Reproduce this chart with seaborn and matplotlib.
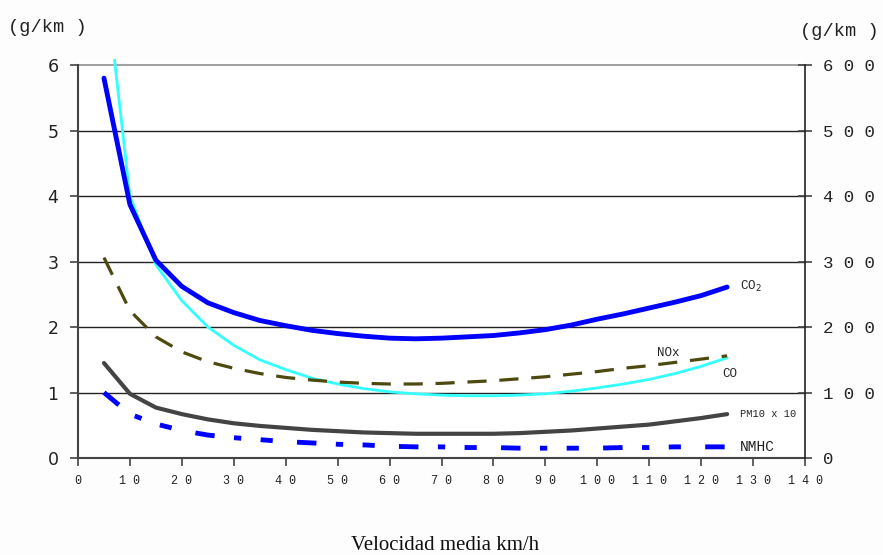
import numpy as np
import pandas as pd
import matplotlib
matplotlib.use("Agg")
import matplotlib.pyplot as plt
import seaborn as sns

speed = [5, 10, 15, 20, 25, 30, 35, 40, 45, 50, 55, 60, 65, 70, 75, 80, 85, 90, 95, 100, 105, 110, 115, 120, 125]
co2 = [5.8, 3.87, 3.02, 2.62, 2.37, 2.22, 2.10, 2.02, 1.95, 1.90, 1.86, 1.83, 1.82, 1.83, 1.85, 1.87, 1.91, 1.96, 2.03, 2.12, 2.20, 2.29, 2.38, 2.48, 2.61]
co = [7.5, 4.0, 2.95, 2.40, 2.00, 1.72, 1.50, 1.35, 1.22, 1.13, 1.06, 1.01, 0.98, 0.96, 0.95, 0.95, 0.96, 0.98, 1.02, 1.07, 1.13, 1.20, 1.29, 1.40, 1.53]
nox = [3.06, 2.25, 1.85, 1.62, 1.47, 1.37, 1.29, 1.23, 1.19, 1.16, 1.14, 1.13, 1.13, 1.14, 1.16, 1.18, 1.21, 1.24, 1.28, 1.32, 1.37, 1.41, 1.46, 1.51, 1.56]
pm10x10 = [1.45, 0.98, 0.77, 0.67, 0.59, 0.53, 0.49, 0.46, 0.43, 0.41, 0.39, 0.38, 0.37, 0.37, 0.37, 0.37, 0.38, 0.40, 0.42, 0.45, 0.48, 0.51, 0.56, 0.61, 0.67]
nmhc = [1.0, 0.67, 0.52, 0.42, 0.35, 0.31, 0.28, 0.25, 0.23, 0.21, 0.20, 0.18, 0.17, 0.17, 0.16, 0.16, 0.15, 0.15, 0.15, 0.15, 0.16, 0.16, 0.17, 0.17, 0.17]

left_ticks = [0, 1, 2, 3, 4, 5, 6]
right_ticks = [0, 100, 200, 300, 400, 500, 600]
x_ticks = list(range(0, 141, 10))

df = pd.DataFrame({"speed": speed, "CO2": co2, "CO": co, "NOx": nox, "PM10": pm10x10, "NMHC": nmhc})

sns.set_theme(style="white")
plt.rcParams['font.family'] = ['DejaVu Sans']

fig = plt.figure(figsize=(8.83, 5.55), dpi=100)
fig.patch.set_facecolor("#fdfdfd")
ax = fig.add_axes([78/883, 1 - 458/555, 727/883, (458 - 58.5)/555])
ax.set_facecolor("white")

# gridlines
for t in left_ticks[1:]:
    ax.axhline(t, color="#999999" if t == 6 else "#222222", lw=1.0 if t < 6 else 1.3, zorder=1)

sns.lineplot(data=df, x="speed", y="CO", ax=ax, color="#33ffff", lw=2.0, zorder=3)
sns.lineplot(data=df, x="speed", y="NOx", ax=ax, color="#4d4a10", lw=2.3, zorder=3, dashes=False)
ax.lines[-1].set_dashes((6, 4))
sns.lineplot(data=df, x="speed", y="PM10", ax=ax, color="#444444", lw=3.0, zorder=3)
sns.lineplot(data=df, x="speed", y="NMHC", ax=ax, color="#0000ff", lw=3.5, zorder=3)
ax.lines[-1].set_dashes((4, 4, 1.5, 4, 2.5, 5))
sns.lineplot(data=df, x="speed", y="CO2", ax=ax, color="#0000ff", lw=3.5, zorder=4)
for ln in ax.lines:
    ln.set_solid_capstyle("round")

ax.set_xlim(0, 140)
ax.set_ylim(0, 6.1)
ax.set_xlabel("")
ax.set_ylabel("")
ax.set_xticks(x_ticks)
ax.set_xticklabels([" ".join(str(v)) for v in x_ticks], fontsize=8.5, family="Liberation Mono", color="#222222")
ax.set_yticks(left_ticks)
ax.set_yticklabels([str(v) for v in left_ticks], fontsize=12.5, color="#222222")
ax.tick_params(axis="both", direction="out", length=6, width=1.2, color="#444444", left=True, bottom=True)
ax.tick_params(axis="x", pad=6)
ax.tick_params(axis="y", pad=8)
for s in ["top", "right"]:
    ax.spines[s].set_visible(False)
ax.spines["left"].set_bounds(0, 6)
ax.spines["left"].set_color("#444444")
ax.spines["left"].set_linewidth(1.5)
ax.spines["bottom"].set_color("#444444")
ax.spines["bottom"].set_linewidth(1.5)

ax2 = ax.twinx()
ax2.set_ylim(0, 610)
ax2.set_yticks(right_ticks)
ax2.set_yticklabels([" ".join(str(v)) for v in right_ticks], fontsize=12.5, family="Liberation Mono", color="#222222")
ax2.tick_params(axis="y", direction="inout", length=10, width=1.2, color="#444444", right=True, pad=8)
for s in ["top", "left", "bottom"]:
    ax2.spines[s].set_visible(False)
ax2.spines["right"].set_bounds(0, 600)
ax2.spines["right"].set_color("#222222")
ax2.spines["right"].set_linewidth(1.2)
ax2.grid(False)

mono = dict(family="Liberation Mono", color="#222222")
ax.text(127.5, 2.62, "CO$_2$", fontsize=9, va="center", ha="left", **mono)
ax.text(111.5, 1.61, "NOx", fontsize=9, va="center", ha="left", **mono)
ax.text(124, 1.29, "CO", fontsize=9, va="center", ha="left", **mono)
ax.text(127.5, 0.67, "PM10 x 10", fontsize=7.5, va="center", ha="left", **mono)
ax.text(127.5, 0.17, "NMHC", fontsize=10.5, va="center", ha="left", **mono)

fig.text(8/883, 1 - 27/555, "(g/km )", fontsize=13.5, va="center", ha="left", **mono)
fig.text(800/883, 1 - 32/555, "(g/km )", fontsize=13.5, va="center", ha="left", **mono)
fig.text(445/883, 1 - 545/555, "Velocidad media km/h", fontsize=15, va="center", ha="center",
         family="Liberation Serif", color="#111111")

fig.savefig("out.png", dpi=100, facecolor=fig.get_facecolor())
